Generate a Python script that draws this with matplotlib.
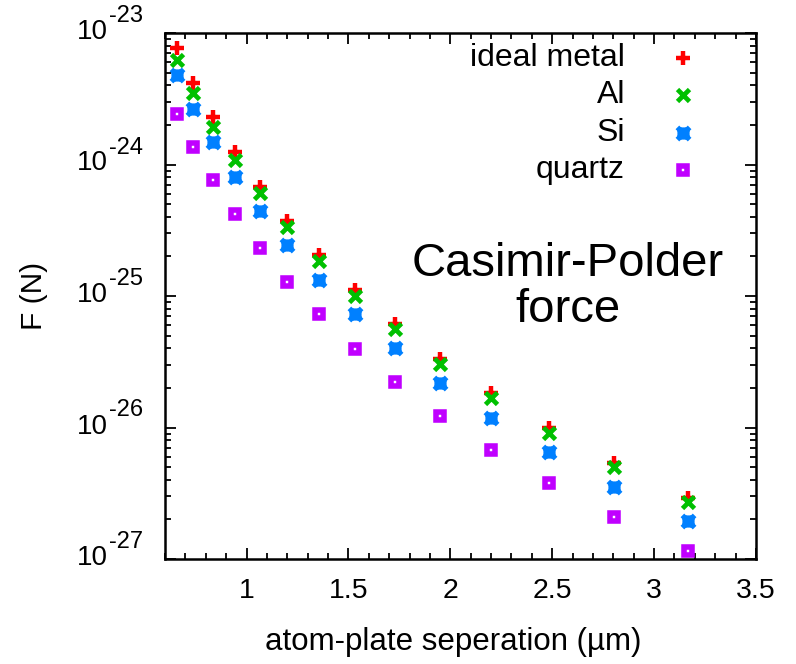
import numpy as np
import matplotlib
matplotlib.use("Agg")
import matplotlib.pyplot as plt
from matplotlib.path import Path
from matplotlib.ticker import MultipleLocator, LogLocator, FuncFormatter, NullFormatter

plt.rcParams['font.family'] = ['Liberation Sans', 'DejaVu Sans']

# atom-plate separation (um)
separation = [0.657, 0.739, 0.837, 0.944, 1.067, 1.201, 1.357,
              1.533, 1.727, 1.951, 2.201, 2.486, 2.804, 3.166]

# Casimir-Polder force (N)
force_ideal = [7.65e-24, 4.19e-24, 2.29e-24, 1.25e-24, 6.78e-25, 3.72e-25, 2.04e-25,
               1.12e-25, 6.12e-26, 3.32e-26, 1.82e-26, 9.97e-27, 5.34e-27, 2.92e-27]
force_al = [6.23e-24, 3.48e-24, 1.94e-24, 1.08e-24, 6.04e-25, 3.33e-25, 1.84e-25,
            1.005e-25, 5.58e-26, 3.04e-26, 1.67e-26, 9.13e-27, 4.98e-27, 2.73e-27]
force_si = [4.77e-24, 2.64e-24, 1.47e-24, 7.99e-25, 4.43e-25, 2.43e-25, 1.32e-25,
            7.26e-26, 4.00e-26, 2.18e-26, 1.19e-26, 6.48e-27, 3.53e-27, 1.93e-27]
force_quartz = [2.42e-24, 1.36e-24, 7.59e-25, 4.20e-25, 2.33e-25, 1.28e-25, 7.26e-26,
                3.97e-26, 2.21e-26, 1.22e-26, 6.78e-27, 3.77e-27, 2.10e-27, 1.16e-27]

labels = ["ideal metal", "Al", "Si", "quartz"]
y_exponents = [-27, -26, -25, -24, -23]

# gnuplot-like asterisk: a plus and a cross drawn together
star = Path([(-1, 0), (1, 0), (0, -1), (0, 1), (-1, -1), (1, 1), (-1, 1), (1, -1)],
            [Path.MOVETO, Path.LINETO] * 4)

styles = [
    dict(marker='+', ms=9.5, mew=3.2, color='#ff0000'),
    dict(marker='x', ms=8.5, mew=3.4, color='#00c000'),
    dict(marker=star, ms=8.8, mew=3.7, color='#0080ff'),
    dict(marker='s', ms=6.4, mew=4.0, color='#c000ff', mfc='white', mec='#c000ff'),
]

fig = plt.figure(figsize=(7.96, 6.64), dpi=100)
ax = fig.add_axes([165 / 796, 1 - 559 / 664, (756 - 165) / 796, (559 - 33) / 664])

series = [force_ideal, force_al, force_si, force_quartz]
for vals, st in zip(series, styles):
    ax.plot(separation, vals, linestyle='none', **st)

ax.set_yscale('log')
ax.set_xlim(0.6, 3.5)
ax.set_ylim(1e-27, 1e-23)

ax.xaxis.set_major_locator(MultipleLocator(0.5))
ax.xaxis.set_minor_locator(MultipleLocator(0.1))
ax.yaxis.set_major_locator(LogLocator(base=10, numticks=10))
ax.yaxis.set_minor_locator(LogLocator(base=10, subs=np.arange(2, 10), numticks=20))
ax.yaxis.set_minor_formatter(NullFormatter())
ax.yaxis.set_major_formatter(NullFormatter())
ax.xaxis.set_major_formatter(FuncFormatter(lambda v, pos: f"{v:g}"))

ax.tick_params(which='both', direction='in', top=True, right=True, width=1.3, colors='black')
ax.tick_params(which='major', length=8)
ax.tick_params(which='minor', length=4)
ax.tick_params(axis='x', which='major', labelsize=20.5, pad=14)
for sp in ax.spines.values():
    sp.set_linewidth(1.8)

# y tick labels as 10 with a raised exponent
ytr = ax.get_yaxis_transform()
for e in y_exponents:
    ax.annotate("10", xy=(0, 10.0 ** e), xycoords=ytr, xytext=(-57, -6),
                textcoords='offset pixels', ha='right', va='baseline', fontsize=20)
    ax.annotate(f"-{abs(e)}", xy=(0, 10.0 ** e), xycoords=ytr, xytext=(-56, 11),
                textcoords='offset pixels', ha='left', va='baseline', fontsize=17)

ax.set_xlabel("atom-plate seperation (µm)", fontsize=22.5)
ax.xaxis.set_label_coords((453 - 165) / 591, -0.13)
ax.set_ylabel("F (N)", fontsize=21.5)
ax.yaxis.set_label_coords(-0.198, 0.5)

# key: right-aligned label followed by its marker
key_y = [58, 95, 133, 170]
for lab, st, yp in zip(labels, styles, key_y):
    yax = (559 - yp) / (559 - 33)
    ax.text((625 - 165) / (756 - 165), yax, lab, transform=ax.transAxes,
            ha='right', va='center', fontsize=23)
    ax.plot([(683 - 165) / (756 - 165)], [yax], transform=ax.transAxes,
            linestyle='none', clip_on=False, **st)

ax.text((568 - 165) / (756 - 165), (559 - 287) / (559 - 33), "Casimir-Polder\nforce",
        transform=ax.transAxes, ha='center', va='center', fontsize=34, linespacing=1.05)

fig.savefig("out.png", dpi=100)
